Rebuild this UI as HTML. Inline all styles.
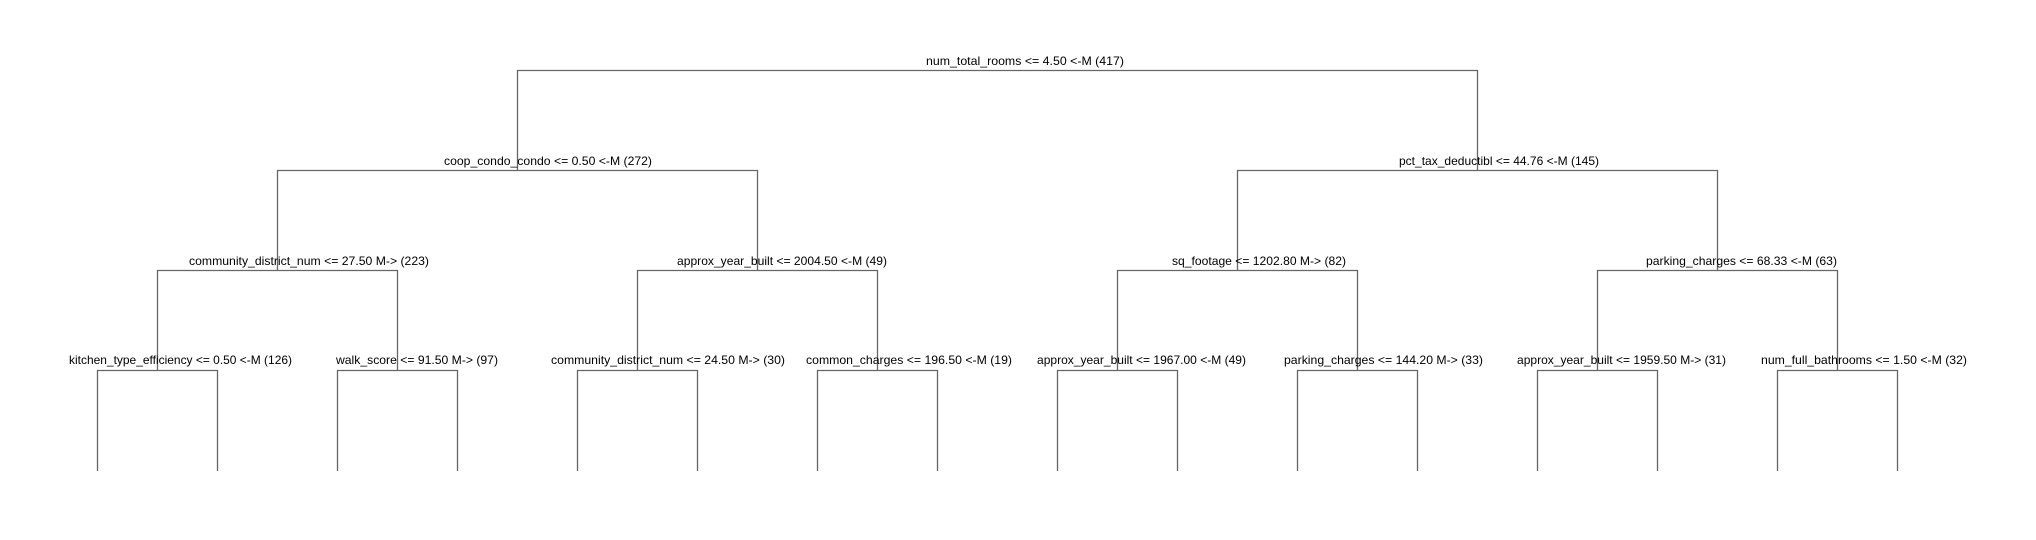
<!DOCTYPE html>
<html><head><meta charset="utf-8"><style>
html,body{margin:0;padding:0;background:#fff;}
svg{display:block;}
text{font-family:"Liberation Sans",Arial,sans-serif;font-size:12px;fill:#000;}
</style></head><body>
<svg width="2036" height="540" viewBox="0 0 2036 540" xmlns="http://www.w3.org/2000/svg">
<g stroke="#666" stroke-width="1.3" fill="none">
<path d="M517.5 171 V70.5 H1477.5 V171"/>
<path d="M277.5 271 V170.5 H757.5 V271"/>
<path d="M1237.5 271 V170.5 H1717.5 V271"/>
<path d="M157.5 371 V270.5 H397.5 V371"/>
<path d="M637.5 371 V270.5 H877.5 V371"/>
<path d="M1117.5 371 V270.5 H1357.5 V371"/>
<path d="M1597.5 371 V270.5 H1837.5 V371"/>
<path d="M97.5 471 V370.5 H217.5 V471"/>
<path d="M337.5 471 V370.5 H457.5 V471"/>
<path d="M577.5 471 V370.5 H697.5 V471"/>
<path d="M817.5 471 V370.5 H937.5 V471"/>
<path d="M1057.5 471 V370.5 H1177.5 V471"/>
<path d="M1297.5 471 V370.5 H1417.5 V471"/>
<path d="M1537.5 471 V370.5 H1657.5 V471"/>
<path d="M1777.5 471 V370.5 H1897.5 V471"/>
</g>
<text x="926" y="65" textLength="198" lengthAdjust="spacingAndGlyphs">num_total_rooms &lt;= 4.50 &lt;-M (417)</text>
<text x="444" y="165" textLength="208" lengthAdjust="spacingAndGlyphs">coop_condo_condo &lt;= 0.50 &lt;-M (272)</text>
<text x="1399" y="165" textLength="200" lengthAdjust="spacingAndGlyphs">pct_tax_deductibl &lt;= 44.76 &lt;-M (145)</text>
<text x="189" y="265" textLength="240" lengthAdjust="spacingAndGlyphs">community_district_num &lt;= 27.50 M-&gt; (223)</text>
<text x="677" y="265" textLength="210" lengthAdjust="spacingAndGlyphs">approx_year_built &lt;= 2004.50 &lt;-M (49)</text>
<text x="1172" y="265" textLength="174" lengthAdjust="spacingAndGlyphs">sq_footage &lt;= 1202.80 M-&gt; (82)</text>
<text x="1646" y="265" textLength="191" lengthAdjust="spacingAndGlyphs">parking_charges &lt;= 68.33 &lt;-M (63)</text>
<text x="69" y="364" textLength="223" lengthAdjust="spacingAndGlyphs">kitchen_type_efficiency &lt;= 0.50 &lt;-M (126)</text>
<text x="336" y="364" textLength="162" lengthAdjust="spacingAndGlyphs">walk_score &lt;= 91.50 M-&gt; (97)</text>
<text x="551" y="364" textLength="234" lengthAdjust="spacingAndGlyphs">community_district_num &lt;= 24.50 M-&gt; (30)</text>
<text x="806" y="364" textLength="206" lengthAdjust="spacingAndGlyphs">common_charges &lt;= 196.50 &lt;-M (19)</text>
<text x="1037" y="364" textLength="209" lengthAdjust="spacingAndGlyphs">approx_year_built &lt;= 1967.00 &lt;-M (49)</text>
<text x="1284" y="364" textLength="199" lengthAdjust="spacingAndGlyphs">parking_charges &lt;= 144.20 M-&gt; (33)</text>
<text x="1517" y="364" textLength="209" lengthAdjust="spacingAndGlyphs">approx_year_built &lt;= 1959.50 M-&gt; (31)</text>
<text x="1761" y="364" textLength="206" lengthAdjust="spacingAndGlyphs">num_full_bathrooms &lt;= 1.50 &lt;-M (32)</text>
</svg>
</body></html>
